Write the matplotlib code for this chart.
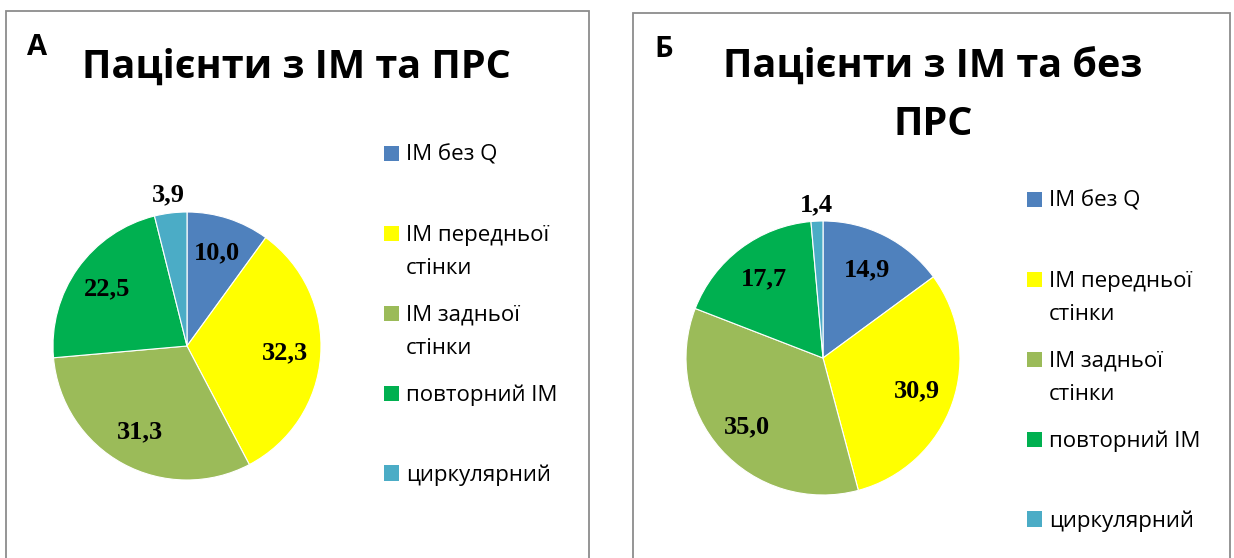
import numpy as np
import matplotlib
matplotlib.use("Agg")
import matplotlib.pyplot as plt
from matplotlib.patches import Rectangle

W, H = 1234, 558

categories = ["ІМ без Q", "ІМ передньої\nстінки", "ІМ задньої\nстінки", "повторний ІМ", "циркулярний"]
colors = ["#4F81BD", "#FFFF00", "#9BBB59", "#00B050", "#4BACC6"]

values_a = [10.0, 32.3, 31.3, 22.5, 3.9]
values_b = [14.9, 30.9, 35.0, 17.7, 1.4]

title_a = "Пацієнти з ІМ та ПРС"
title_b = "Пацієнти з ІМ та без\nПРС"

sans = ["Open Sans", "DejaVu Sans"]
serif = ["Liberation Serif", "DejaVu Serif"]

fig = plt.figure(figsize=(W / 100, H / 100), dpi=100)


def fx(x):
    return x / W


def fy(y):
    return 1 - y / H


def lines_text(x, y, s, step, **kw):
    # one text per line so every baseline sits where we want it
    for k, line in enumerate(s.split("\n")):
        fig.text(fx(x), fy(y + k * step), line, va="baseline", **kw)


def panel(left, top, right, letter, letter_xy, title, title_xy,
          values, label_dist, center, radius, leg_x, leg_y0, leg_step):
    # frame of the panel (bottom is cut off by the picture)
    fig.add_artist(Rectangle((fx(left), fy(H + 10)), fx(right - left), fy(top) - fy(H + 10),
                             transform=fig.transFigure, fill=False,
                             edgecolor="#8c8c8c", lw=1.3))
    fig.text(fx(letter_xy[0]), fy(letter_xy[1]), letter, family=sans, weight="bold",
             fontsize=21, ha="left", va="baseline")
    lines_text(title_xy[0], title_xy[1], title, 57, family=sans, weight="bold",
               fontsize=28.5, ha="center")

    cx, cy = center
    ax = fig.add_axes([fx(cx - radius), fy(cy + radius), fx(2 * radius), fy(cy - radius) - fy(cy + radius)])
    wedges, _ = ax.pie(values, colors=colors, startangle=90, counterclock=False,
                       wedgeprops=dict(edgecolor="white", linewidth=0.8))
    ax.set_xlim(-1, 1)
    ax.set_ylim(-1, 1)
    for w, v, d in zip(wedges, values, label_dist):
        ang = np.deg2rad((w.theta1 + w.theta2) / 2)
        ax.text(d * np.cos(ang), d * np.sin(ang), f"{v:.1f}".replace(".", ","),
                family=serif, weight="bold", fontsize=19, ha="center", va="center")

    # legend
    for i, (lab, col) in enumerate(zip(categories, colors)):
        yc = leg_y0 + i * leg_step
        fig.add_artist(Rectangle((fx(leg_x), fy(yc + 7.5)), fx(15), fy(yc - 7.5) - fy(yc + 7.5),
                                 transform=fig.transFigure, facecolor=col, edgecolor="none"))
        lines_text(leg_x + 22, yc + 7.5, lab, 34, family=sans, fontsize=16, ha="left")


panel(6, 11, 589, "А", (27, 55), title_a, (296, 78),
      values_a, [0.73, 0.73, 0.73, 0.73, 1.14], (187, 346), 134, 384, 153, 80)
panel(633, 13, 1230, "Б", (654, 57), title_b, (933, 78),
      values_b, [0.72, 0.73, 0.75, 0.72, 1.12], (823, 358), 137, 1027, 199, 80)

fig.savefig("out.png", dpi=100, facecolor="white")
